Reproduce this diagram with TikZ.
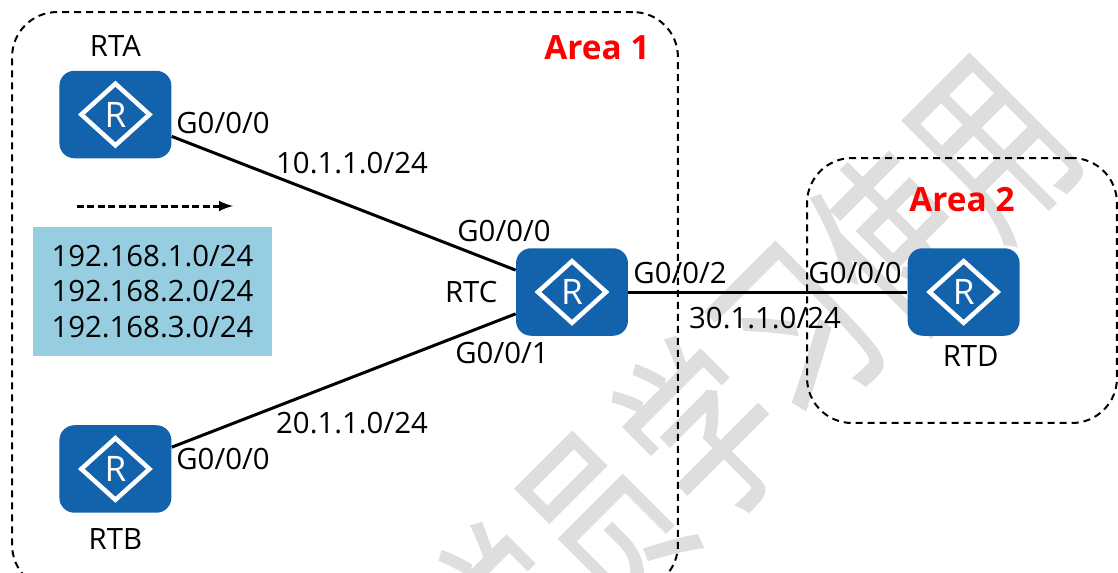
\documentclass[tikz,border=0pt]{standalone}
\usepackage{fontspec}
\setmainfont{Open Sans}
\newfontfamily\wmfont[FakeStretch=.65,FakeBold=.8]{Noto Sans CJK SC}
\usetikzlibrary{arrows, positioning, shapes.geometric}
\definecolor{router_blue}{HTML}{1262AC}
\definecolor{net_blue}{HTML}{96CDE0}
\definecolor{mark_gray}{HTML}{DEDEDE}
\tikzset{
  router/.style={rectangle,rounded corners=.3cm,fill=router_blue,text=white,minimum width=2.24cm,minimum height=1.75cm,inner sep=0,font=\fontsize{20}{20}\selectfont,
    path picture={\node[diamond,sharp corners,anchor=center,draw=white,line width=.09cm,minimum width=1.4cm,minimum height=1.27cm,inner sep=0] at (path picture bounding box.center) {};}},
  iface/.style={font=\fontsize{16.7}{20}\selectfont,inner sep=0},
  area/.style={draw=black,line width=.04cm,dash pattern=on .14cm off .1cm,rounded corners=.9cm,inner sep=0},
  areaname/.style={text=red,font=\fontsize{19}{20}\selectfont\bfseries,inner sep=0},
  link/.style={line width=.06cm,black},
  netbox/.style={fill=net_blue,align=center,minimum width=4.78cm,minimum height=2.58cm,inner sep=0,font=\fontsize{16.7}{20}\selectfont},
  wmchar/.style={text=mark_gray,rotate=45,inner sep=0,font=\wmfont\fontsize{113}{113}\selectfont},
}
\pgfdeclarelayer{back}
\pgfsetlayers{back,main}
\begin{document}
\begin{tikzpicture}[x=.02cm,y=-.02cm]
	\useasboundingbox (0,0) rectangle (1118,572);
	\clip (0,0) rectangle (1118,572);
	%watermark
	\begin{pgfonlayer}{back}
	\foreach \ch/\cx/\cy [count=\i] in {学/508/615,员/605/522,学/702/429,习/799/336,使/896/243,用/994/149}
	  \node[wmchar] (MARK\i) at (\cx,\cy) {\ch};
	\end{pgfonlayer}
	%areas
	\node[area,minimum width=13.32cm,minimum height=11.56cm] (AREAONE) at (345,301) {};
	\node[area,minimum width=6.2cm,minimum height=5.3cm] (AREATWO) at (962,290.5) {};
	\node[areaname] (AREAONENAME) at (597,48) {Area 1};
	\node[areaname] (AREATWONAME) at (962,200) {Area 2};
	%routers
	\node[router] (RTC) at (572,292) {R};
	\node[router,left=6.88cm of RTC,yshift=3.55cm] (RTA) {R};
	\node[router,left=6.88cm of RTC,yshift=-3.54cm] (RTB) {R};
	\node[router,right=5.58cm of RTC] (RTD) {R};
	\node[iface,above=.27cm of RTA] (RTANAME) {RTA};
	\node[iface,below=.3cm of RTB] (RTBNAME) {RTB};
	\node[iface,left=.36cm of RTC] (RTCNAME) {RTC};
	\node[iface,below=.18cm of RTD,xshift=.14cm] (RTDNAME) {RTD};
	\draw (RTA) edge[link] (RTC);
	\draw (RTB) edge[link] (RTC);
	\draw (RTC) edge[link] (RTD);
	%interfaces
	\node[iface] (AIF) at (223,123) {G0/0/0};
	\node[iface] (ANET) at (352,163) {10.1.1.0/24};
	\node[iface] (CIFA) at (504,231) {G0/0/0};
	\node[iface] (CIFB) at (502,353) {G0/0/1};
	\node[iface] (BNET) at (352,423) {20.1.1.0/24};
	\node[iface] (BIF) at (223,459) {G0/0/0};
	\node[iface] (CIFD) at (680,273) {G0/0/2};
	\node[iface] (DIF) at (855,273) {G0/0/0};
	\node[iface] (DNET) at (765,318) {30.1.1.0/24};
	%routes
	\node[netbox] (ROUTES) at (152.5,291.5) {192.168.1.0/24\\192.168.2.0/24\\192.168.3.0/24};
	\coordinate (FLOWA) at (77,206);
	\coordinate (FLOWB) at (233,206);
	\draw[line width=.06cm,dash pattern=on .14cm off .07cm,-latex] (FLOWA) -- (FLOWB);
\end{tikzpicture}
\end{document}
